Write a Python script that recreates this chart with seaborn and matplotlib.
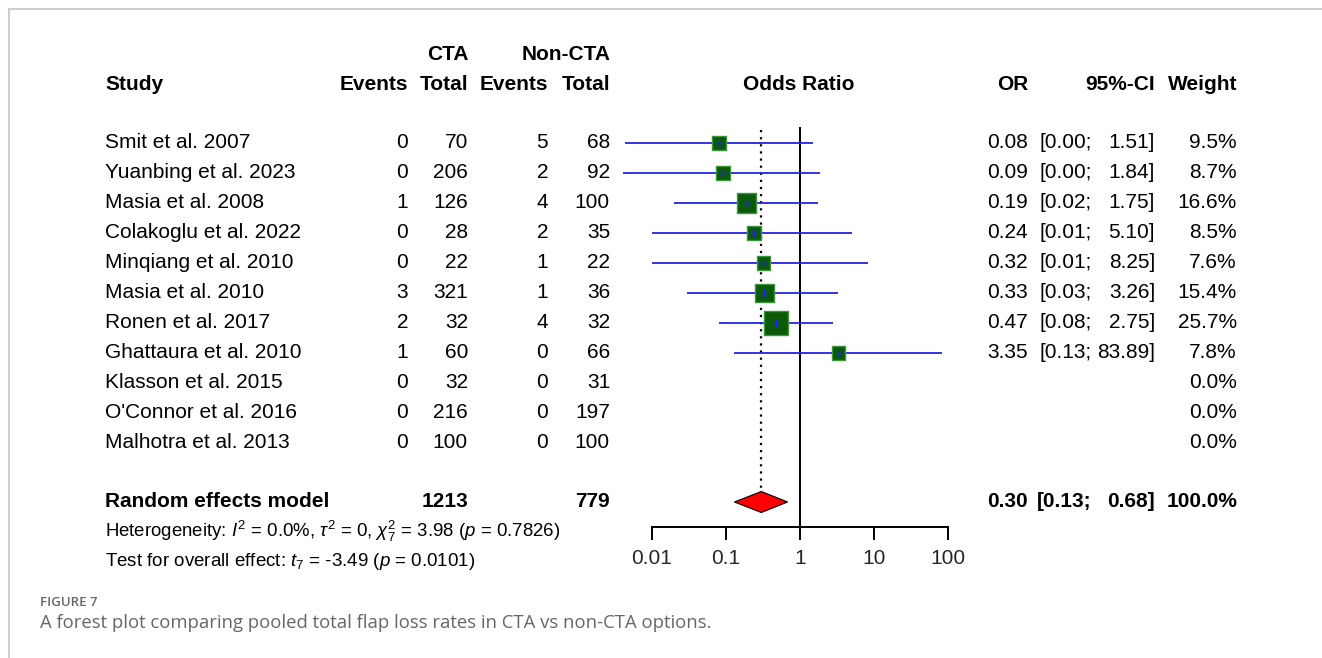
import numpy as np
import pandas as pd
import matplotlib
matplotlib.use("Agg")
import matplotlib.pyplot as plt
import matplotlib.transforms as mtransforms
import seaborn as sns

# ---------------- data ----------------
studies = ["Smit et al. 2007", "Yuanbing et al. 2023", "Masia et al. 2008",
           "Colakoglu et al. 2022", "Minqiang et al. 2010", "Masia et al. 2010",
           "Ronen et al. 2017", "Ghattaura et al. 2010", "Klasson et al. 2015",
           "O'Connor et al. 2016", "Malhotra et al. 2013"]
cta_events = [0, 0, 1, 0, 0, 3, 2, 1, 0, 0, 0]
cta_total = [70, 206, 126, 28, 22, 321, 32, 60, 32, 216, 100]
non_events = [5, 2, 4, 2, 1, 1, 4, 0, 0, 0, 0]
non_total = [68, 92, 100, 35, 22, 36, 32, 66, 31, 197, 100]
odds_ratio = [0.08, 0.09, 0.19, 0.24, 0.32, 0.33, 0.47, 3.35]
ci_lower = [0.0043, 0.0040, 0.02, 0.01, 0.01, 0.03, 0.08, 0.13]
ci_upper = [1.51, 1.84, 1.75, 5.10, 8.25, 3.26, 2.75, 83.89]
ci_lower_text = ["0.00", "0.00", "0.02", "0.01", "0.01", "0.03", "0.08", "0.13"]
weights = [9.5, 8.7, 16.6, 8.5, 7.6, 15.4, 25.7, 7.8, 0.0, 0.0, 0.0]
pooled_or, pooled_lo, pooled_hi = 0.30, 0.13, 0.68
total_cta, total_non = 1213, 779
xticks = [0.01, 0.1, 1, 10, 100]
xtick_labels = ["0.01", "0.1", "1", "10", "100"]

# ---------------- figure ----------------
W, H = 1322, 658
sns.set_theme(style="white")
plt.rcParams["font.family"] = ["Liberation Sans", "DejaVu Sans"]
plt.rcParams["mathtext.fontset"] = "custom"
plt.rcParams["mathtext.rm"] = "Liberation Sans"
plt.rcParams["mathtext.it"] = "Liberation Sans:italic"
plt.rcParams["mathtext.bf"] = "Liberation Sans:bold"

fig = plt.figure(figsize=(W / 100, H / 100), dpi=100)
fig.patch.set_facecolor("white")


def fx(px):
    return px / W


def fy(py):
    return 1 - py / H


# forest axes: x pixel 600..1000, y pixel 120..527
ax_left, ax_right, ax_top, ax_bot = 600, 1000, 120, 527
ax = fig.add_axes([fx(ax_left), fy(ax_bot), fx(ax_right - ax_left), (ax_bot - ax_top) / H])
ax.set_facecolor("none")
ax.set_xscale("log")
ppd = 74.0  # pixels per decade
lo_log = -2 - (652 - ax_left) / ppd
hi_log = lo_log + (ax_right - ax_left) / ppd
ax.set_xlim(10 ** lo_log, 10 ** hi_log)
row_px = 30.0
y_top = (ax_top - 143) / row_px
y_bot = (ax_bot - 143) / row_px
ax.set_ylim(y_bot, y_top)

n_est = len(odds_ratio)
rows = np.arange(len(studies))
df = pd.DataFrame({"OR": odds_ratio, "row": rows[:n_est], "w": weights[:n_est]})

# CI lines
ax.hlines(rows[:n_est], ci_lower, ci_upper, color="#2323e6", lw=1.3, zorder=2)
# squares sized by weight (area proportional to weight)
k = 300.0 / 25.7
sns.scatterplot(data=df, x="OR", y="row", size="w",
                sizes=(k * min(df["w"]), k * max(df["w"])), marker="s",
                color="#0a5a0a", edgecolor="#3c963c", linewidth=1.0, legend=False,
                ax=ax, zorder=3)
ax.scatter(odds_ratio, rows[:n_est], marker="+", s=30, color="#2323e6", lw=1.0, zorder=4)

# reference lines
pooled_row = (502 - 143) / row_px
ax.vlines(1, (127 - 143) / row_px, y_bot, color="black", lw=1.4, zorder=1)
ax.vlines(pooled_or, (130 - 143) / row_px, pooled_row - 0.45, color="black", lw=1.6,
          linestyles=(0, (1, 2.2)), zorder=1)

# diamond
dh = 10.5 / row_px
ax.fill([pooled_lo, pooled_or, pooled_hi, pooled_or],
        [pooled_row, pooled_row - dh, pooled_row, pooled_row + dh],
        facecolor="#ff0000", edgecolor="black", lw=0.8, zorder=3)

# axis styling
for s in ["top", "right", "left"]:
    ax.spines[s].set_visible(False)
ax.spines["bottom"].set_bounds(0.01, 100)
ax.spines["bottom"].set_color("black")
ax.spines["bottom"].set_linewidth(1.4)
ax.set_xticks(xticks)
ax.set_xticklabels(xtick_labels, fontsize=15)
ax.xaxis.set_minor_locator(matplotlib.ticker.NullLocator())
ax.tick_params(axis="x", direction="out", length=9.5, width=1.4, color="black",
               pad=6, bottom=True)
ax.set_yticks([])
ax.set_xlabel("")
ax.set_ylabel("")

# ---------------- table text ----------------
tr = mtransforms.blended_transform_factory(fig.transFigure, ax.transData)
FS = 15


def put(xpx, row, s, ha="right", bold=False):
    fig.text(fx(xpx), row, s, transform=tr, ha=ha, va="center", fontsize=FS,
             fontweight="bold" if bold else "normal", color="black")


def put_px(xpx, ypx, s, ha="right", bold=False, fs=FS):
    fig.text(fx(xpx), fy(ypx), s, ha=ha, va="center", fontsize=fs,
             fontweight="bold" if bold else "normal", color="black")


# headers
put_px(448, 54, "CTA", ha="center", bold=True)
put_px(566, 54, "Non-CTA", ha="center", bold=True)
put_px(105, 84, "Study", ha="left", bold=True)
put_px(408, 84, "Events", bold=True)
put_px(468, 84, "Total", bold=True)
put_px(548, 84, "Events", bold=True)
put_px(610, 84, "Total", bold=True)
put_px(799, 84, "Odds Ratio", ha="center", bold=True)
put_px(1028, 84, "OR", bold=True)
put_px(1155, 84, "95%-CI", bold=True)
put_px(1237, 84, "Weight", bold=True)

for i, name in enumerate(studies):
    put(105, i, name, ha="left")
    put(408, i, str(cta_events[i]))
    put(468, i, str(cta_total[i]))
    put(548, i, str(non_events[i]))
    put(610, i, str(non_total[i]))
    put(1237, i, f"{weights[i]:.1f}%")
    if i < n_est:
        put(1028, i, f"{odds_ratio[i]:.2f}")
        put(1092, i, f"[{ci_lower_text[i]};")
        put(1155, i, f"{ci_upper[i]:.2f}]")

# pooled row
put(105, pooled_row, "Random effects model", ha="left", bold=True)
put(468, pooled_row, str(total_cta), bold=True)
put(610, pooled_row, str(total_non), bold=True)
put(1028, pooled_row, f"{pooled_or:.2f}", bold=True)
put(1092, pooled_row, f"[{pooled_lo:.2f};", bold=True)
put(1155, pooled_row, f"{pooled_hi:.2f}]", bold=True)
put(1237, pooled_row, "100.0%", bold=True)

put_px(105, 531, r"Heterogeneity: $I^2$ = 0.0%, $\tau^2$ = 0, $\chi^2_7$ = 3.98 ($p$ = 0.7826)",
       ha="left", fs=13.4)
put_px(105, 561, r"Test for overall effect: $t_7$ = -3.49 ($p$ = 0.0101)", ha="left", fs=13.5)

# caption
fig.text(fx(40), fy(602), "FIGURE 7", ha="left", va="center", fontsize=9.5,
         family=["Open Sans", "DejaVu Sans"], fontweight="semibold", color="#666666")
fig.text(fx(40), fy(623), "A forest plot comparing pooled total flap loss rates in CTA vs non-CTA options.",
         ha="left", va="center", fontsize=13.3, family=["Open Sans", "DejaVu Sans"],
         color="#666666")

# frame lines (light gray border of figure panel)
fig.add_artist(matplotlib.lines.Line2D([fx(9), fx(9)], [fy(9), 0], color="#cfcfcf", lw=1.5,
                                       transform=fig.transFigure))
fig.add_artist(matplotlib.lines.Line2D([fx(9), 1], [fy(9), fy(9)], color="#cfcfcf", lw=1.5,
                                       transform=fig.transFigure))

fig.savefig("out.png", dpi=100, facecolor="white")
